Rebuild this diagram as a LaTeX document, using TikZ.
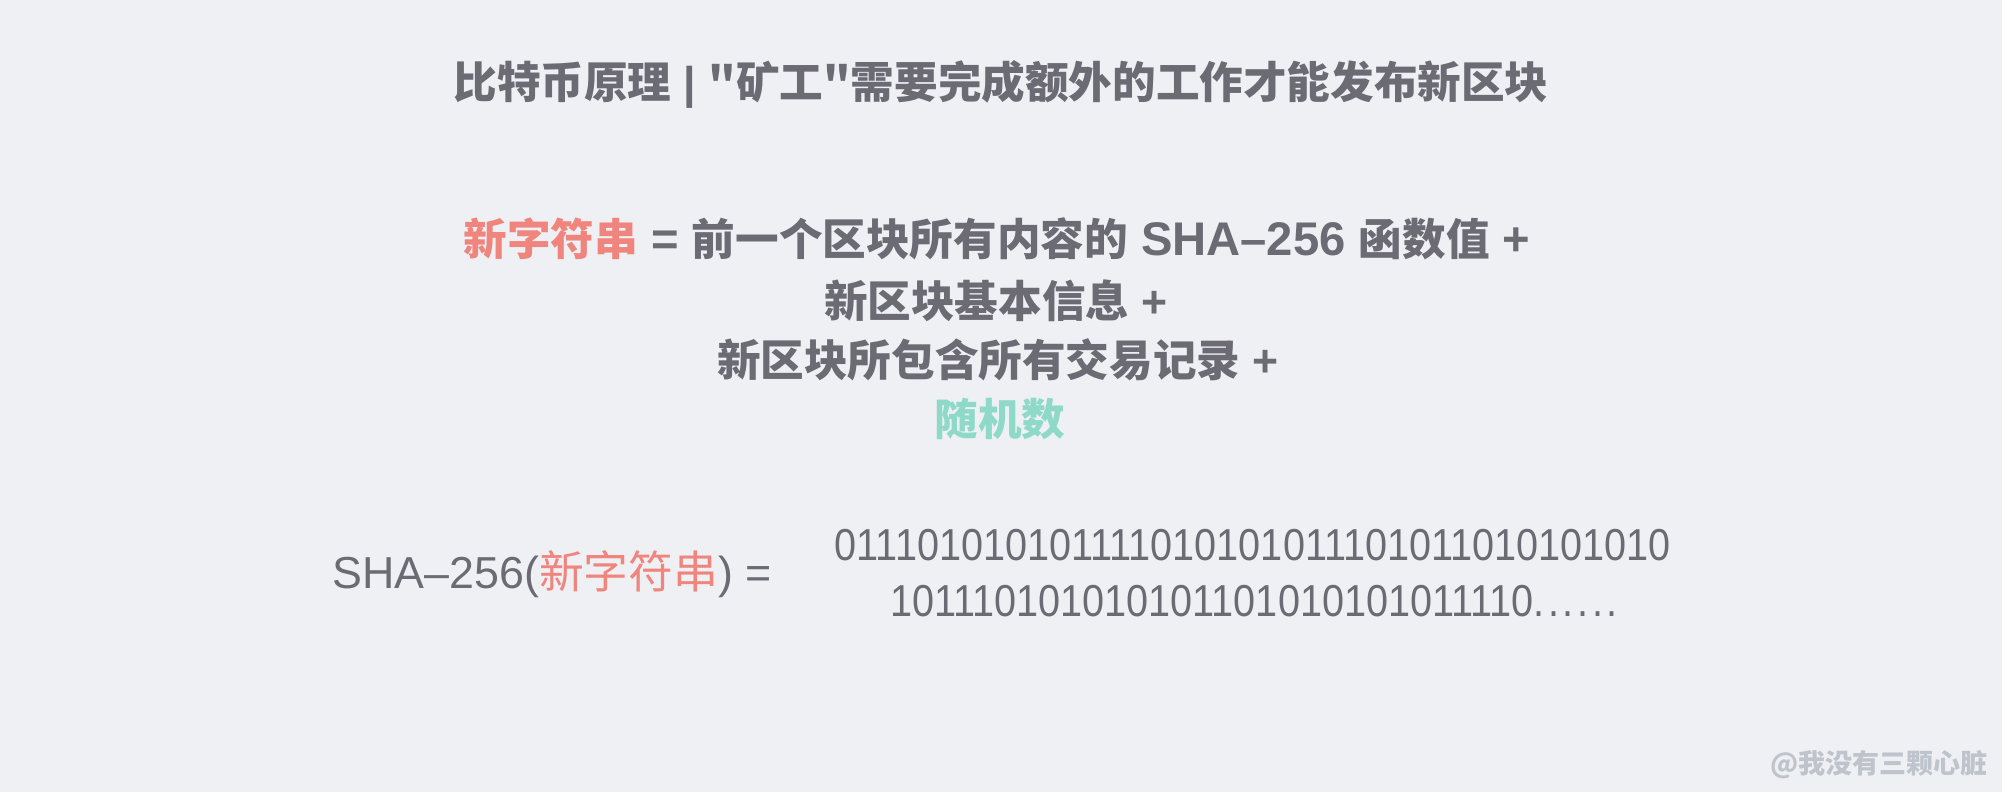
\documentclass[tikz,border=0pt]{standalone}
\usepackage{fontspec}
\usepackage{xcolor}
\newfontfamily\zhfont{Noto Sans CJK SC}
\newfontfamily\enfont[FakeStretch=0.885]{Liberation Sans}
\newfontfamily\enwide{Liberation Sans}
\definecolor{bgcol}{HTML}{EEF0F4}
\definecolor{txtgray}{HTML}{6C6B74}
\definecolor{keyred}{HTML}{F0857E}
\definecolor{keyteal}{HTML}{8FD9C8}
\definecolor{markgray}{HTML}{BFC3CB}
\newcommand{\strcol}[1]{{\color{keyred}#1}}
\newcommand{\latin}[1]{{\enwide\fontsize{22.3}{22.3}\selectfont #1}}
\newcommand{\latinwide}[1]{{\enwide\fontsize{23.6}{23.6}\selectfont #1}}
\newcommand{\dotrun}{.\kern1.8pt.\kern1.8pt.\kern1.8pt.\kern1.8pt.\kern1.8pt.}
\tikzset{
  line/.style={anchor=base, inner sep=0pt, text=txtgray,
    font=\zhfont\bfseries\fontsize{21.8}{21.8}\selectfont},
  bits/.style={anchor=base, inner sep=0pt, text=txtgray,
    font=\enfont\fontsize{22.4}{22.4}\selectfont},
}
\begin{document}
\begin{tikzpicture}[x=0.5pt,y=-0.5pt]
  % background
  \fill[bgcol] (0,0) rectangle (2002,792);

  % title
  \node[line] (title) at (1001,98) {比特币原理\latin{ | }"矿工"需要完成额外的工作才能发布新区块};

  % the new string
  \node[line] (sum1) at (997,255) {\strcol{新字符串}\latinwide{ = }前一个区块所有内容的\latinwide{ SHA–256 }函数值\latinwide{ +}};
  \node[line] (sum2) at (996,317) {新区块基本信息\latin{ +}};
  \node[line] (sum3) at (998,376) {新区块所包含所有交易记录\latin{ +}};
  \node[line, text=keyteal] (sum4) at (1000,435) {随机数};

  % hash of it
  \node[bits, anchor=base west, font=\enwide\fontsize{22.4}{22.4}\selectfont] (hash) at (332,588)
    {SHA–256(\strcol{\zhfont 新字符串}) =};
  \node[bits] (bits1) at (1253,560) {011101010101111010101011101011010101010};
  \node[bits] (bits2) at (1254,616) {101110101010101101010101011110\dotrun};

  % watermark
  \node[anchor=base east, inner sep=0pt, text=markgray,
    font=\zhfont\bfseries\fontsize{13.5}{13.5}\selectfont] (mark) at (1988,773) {@我没有三颗心脏};
\end{tikzpicture}
\end{document}
